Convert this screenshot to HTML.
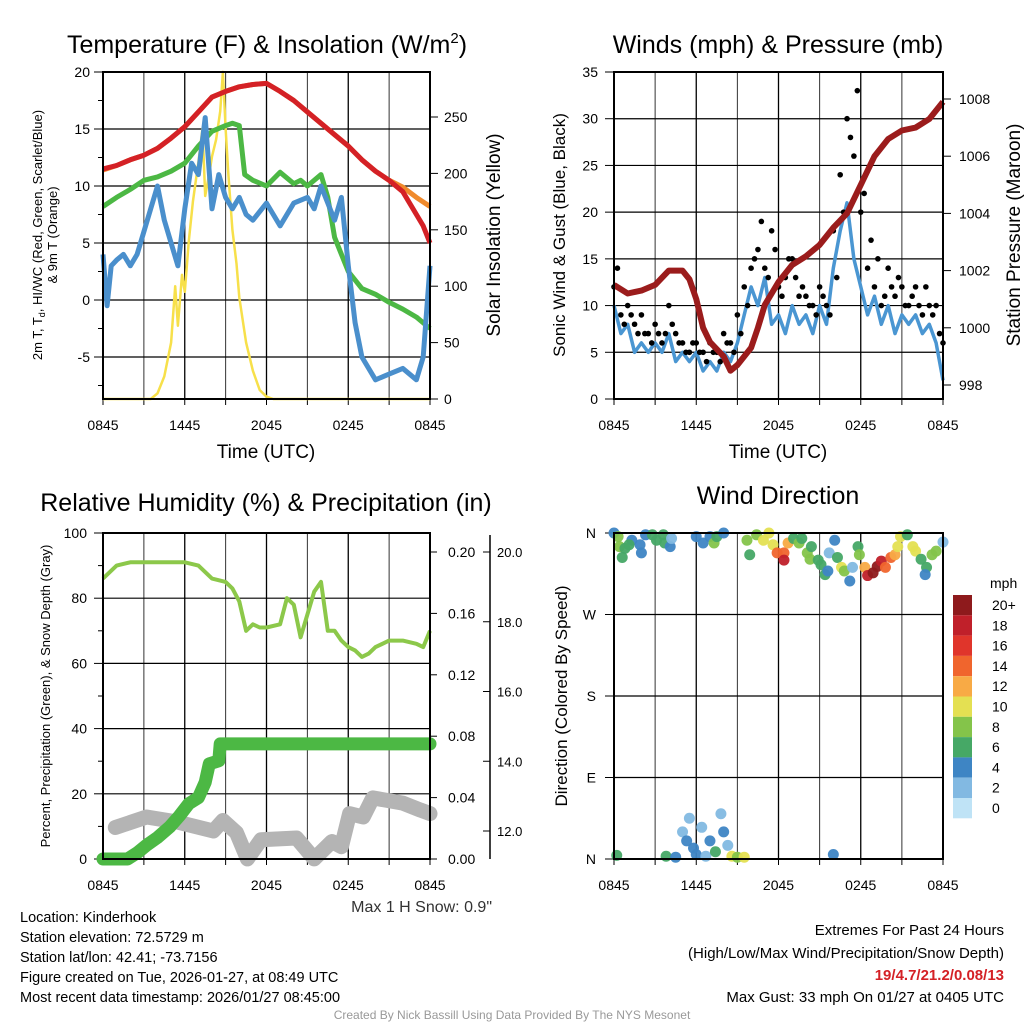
<!DOCTYPE html>
<html><head><meta charset="utf-8"><style>
body{margin:0;background:#fff;}
svg{display:block;font-family:"Liberation Sans",Arial,sans-serif;}
</style></head><body>
<svg id="c" width="1024" height="1024" viewBox="0 0 1024 1024"></svg>
<script>
// ---------- DATA ----------
const tRedH=[0,1,2,3,4,5,6,7,8,9,10,11,12,13,14,15,16,17,18,19,20,21,22,23,23.5,24];
const tRedV=[11.5,11.8,12.3,12.7,13.3,14.2,15.2,16.5,17.8,18.3,18.7,18.9,19.0,18.3,17.5,16.5,15.5,14.5,13.5,12.3,11.3,10.5,9.5,7.5,6.5,5];
const tOrgH=[0,1,2,3,4,5,6,7,8,9,10,11,12,13,14,15,16,17,18,19,20,21,22,23,24];
const tOrgV=[11.4,11.8,12.3,12.7,13.3,14.2,15.2,16.5,17.8,18.3,18.7,18.9,19.0,18.3,17.5,16.5,15.5,14.5,13.5,12.3,11.3,10.5,9.9,9.0,8.2];
const tGrnH=[0,1,2,3,4,5,6,7,8,9,9.5,10,10.4,11,12,13,14,14.5,15,16,16.5,17,18,19,20,21,22,23,24];
const tGrnV=[8.2,9,9.7,10.5,10.8,11.3,12,13.5,14.8,15.3,15.5,15.3,11,10.5,10,11.2,10.2,10.5,10,11,9,5.5,2.5,1,0.5,-0.2,-0.8,-1.5,-2.5];
const tBluH=[0,0.3,0.6,1,1.5,2,2.5,3,3.5,4,4.5,5,5.5,6,6.5,7,7.5,8,8.5,9,9.5,10,10.5,11,12,13,14,15,15.5,16,17,17.5,18,18.5,19,20,21,22,23,23.5,24];
const tBluV=[4,-0.5,3,3.5,4,3,4,6,8,10,7,5,3,8,12,11,16,8,11,9,8,9,7.5,7,8.5,6.5,8.5,9,8,10,7,9,3,-2,-5,-7,-6.5,-6,-7,-5,3];
const solH=[0,3.5,4,4.5,5,5.3,5.5,5.8,6,6.3,6.6,7,7.3,7.5,7.8,8,8.3,8.6,8.8,9,9.2,9.5,9.8,10,10.5,11,11.5,12,12.5,24];
const solV=[0,0,5,20,50,100,65,110,95,140,175,210,240,180,200,215,230,255,290,240,200,150,120,90,50,25,8,2,0,0];
const windH=[0,0.5,1,1.5,2,2.5,3,3.5,4,4.5,5,5.5,6,6.5,7,7.5,8,8.5,9,9.5,10,10.5,11,11.5,12,12.5,13,13.5,14,14.5,15,15.5,16,16.5,17,17.5,18,18.5,19,19.5,20,20.5,21,21.5,22,22.5,23,23.5,24];
const windV=[10,7,8,5,6,5,6,5,7,4,5,4,5,3,4,3,5,4,6,9,12,10,13,8,9,7,10,8,9,7,10,8,14,18,21,15,12,9,11,8,10,7,9,8,9,7,8,6,2];
const gustV=[12,9,10,8,9,7,8,6,10,7,6,5,6,5,6,5,7,6,9,12,14,16,14,18,12,13,15,11,11,10,12,10,18,24,30,26,20,14,12,10,14,11,12,10,12,9,10,10,6];
const gust2V=[14,8,9,7,7,6,7,7,8,6,5,6,5,4,5,4,6,5,7,10,15,19,13,16,11,15,13,12,10,9,11,9,13,20,28,33,22,17,15,11,12,13,10,11,10,12,9,7];
const presH=[0,1,2,3,4,5,5.5,6,6.5,7,8,8.5,9,10,10.5,11,12,13,14,15,16,17,18,19,20,21,22,23,24];
const presV=[1001.5,1001.2,1001.3,1001.5,1002,1002,1001.7,1001,1000,999.5,999,998.5,998.7,999.3,1000,1000.8,1001.6,1002.2,1002.5,1002.9,1003.5,1004,1005,1006,1006.6,1006.9,1007,1007.3,1007.9];
const rhH=[0,0.5,1,2,3,4,5,6,7,7.5,8,9,9.5,10,10.5,11,11.5,12,13,13.5,14,14.5,15,15.5,16,16.5,17,17.5,18,18.5,19,19.5,20,21,22,23,23.5,24];
const rhV=[86,88,90,91,91,91,91,91,90,88,86,85,83,79,70,72,71,71,72,80,78,68,75,82,85,70,70,67,65,64,62,63,65,67,67,66,65,70];
const prH=[0,1.8,2.5,3.2,4,4.9,5.6,6.3,7,7.5,7.8,8.5,8.6,24];
const prV=[0,0,0.004,0.009,0.014,0.021,0.028,0.036,0.04,0.05,0.062,0.064,0.075,0.075];
const snH=[0.9,3.2,5.4,8.1,8.8,9.8,10.6,11.6,14.2,15.5,16.8,17.5,18.1,19.1,19.8,22,23.3,24];
const snV=[12.1,12.4,12.26,12.0,12.3,11.95,11.2,11.75,11.8,11.2,11.7,11.55,12.5,12.4,12.95,12.8,12.6,12.5];
const dirH=[0,0.3,0.4,0.8,0.6,1.3,1.1,1.9,2.0,2.3,2.8,3.1,3.6,3.7,4.1,4.2,6.0,6.5,7.0,7.3,7.5,8.0,9.7,9.9,10.4,10.9,11.3,11.6,11.9,12.4,12.4,12.7,13.1,13.5,13.7,14.1,14.4,14.3,14.9,15.1,15.4,15.6,15.7,16.1,16.3,16.6,16.8,17.2,17.4,17.8,17.9,18.3,18.5,18.9,19.2,19.5,19.8,20.2,20.5,20.7,20.9,21.4,21.8,22.0,22.4,22.8,22.7,23.2,23.5,24,
 0.2,3.8,4.5,5,5.3,5.5,5.8,6.0,6.4,6.7,7.0,7.4,7.8,8.0,8.3,8.6,9.0,9.5,16];
const dirD=[360,356,345,343,333,352,347,347,338,358,358,352,358,349,345,354,356,349,356,349,356,360,352,336,358,352,360,347,338,338,330,349,354,349,354,338,345,331,330,325,314,318,338,352,333,322,318,307,322,345,336,322,313,316,323,329,322,333,336,345,356,358,345,340,331,322,314,336,340,350,
 4,3,2,30,20,45,12,5,35,3,20,8,50,30,15,3,2,2,5];
const dirS=[4,8,8,6,6,4,6,4,4,4,6,6,6,6,4,2,4,4,4,8,6,4,8,6,8,10,10,10,14,14,18,12,6,8,6,8,6,8,6,6,6,4,2,4,6,10,8,4,2,6,8,12,18,20,20,18,14,14,12,10,10,6,10,10,6,6,4,8,8,2,
 6,6,4,2,4,2,4,4,2,2,4,6,2,4,2,10,8,10,4];
const cbLabels=["20+","18","16","14","12","10","8","6","4","2","0"];
const cbColors=["#8e1a1c","#c0202a","#e0352b","#f0652d","#f8aa45","#e4e052","#84c44a","#46a866","#3e85c4","#82b9e2","#bfe3f6"];
// ---------- HELPERS ----------
const svg=document.getElementById('c');const NS='http://www.w3.org/2000/svg';
function mk(t,a,p){const e=document.createElementNS(NS,t);for(const k in a)e.setAttribute(k,a[k]);(p||svg).appendChild(e);return e;}
function txt(x,y,s,sz,anchor,extra){const e=mk('text',Object.assign({x:x,y:y,'font-size':sz,'text-anchor':anchor||'middle',fill:'#000'},extra||{}));e.textContent=s;return e;}
function linear(d0,d1,r0,r1){return v=>r0+(v-d0)*(r1-r0)/(d1-d0);}
function pathD(H,V,sx,sy){return H.map((h,i)=>(i?'L':'M')+sx(h).toFixed(1)+','+sy(V[i]).toFixed(1)).join('');}
function frame(x0,x1,y0,y1,sx,name){
  const g=mk('g',{});
  
  for(let h=0;h<=24;h+=3){mk('line',{x1:sx(h),x2:sx(h),y1:y0,y2:y1,stroke:h%6?'#333':'#000','stroke-width':h%6?1:1.3},g);
    mk('line',{x1:sx(h),x2:sx(h),y1:y1,y2:y1+6,stroke:'#000'},g);}
  const labs=['0845','1445','2045','0245','0845'];
  labs.forEach((l,i)=>{const t=txt(sx(i*6),y1+31,l,14);});
}
function hgrid(x0,x1,y){mk('line',{x1:x0,x2:x1,y1:y,y2:y,stroke:'#000','stroke-width':1.2});}
function box(x0,x1,y0,y1){mk('rect',{x:x0,y:y0,width:x1-x0,height:y1-y0,fill:'none',stroke:'#000','stroke-width':2});}
// ---------- PANEL 1 ----------
{const x0=103,x1=430,y0=72,y1=399;const sx=linear(0,24,x0,x1),sy=linear(-5,20,357,72),sr=linear(0,250,399,117);
 frame(x0,x1,y0,y1,sx,'temperature');
 [20,15,10,5,0,-5].forEach(v=>{hgrid(x0,x1,sy(v));mk('line',{x1:x0-9,x2:x0,y1:sy(v),y2:sy(v),stroke:'#000'});const t=txt(x0-13,sy(v)+5,String(v),14,'end');});
 [17.5,12.5,7.5,2.5,-2.5,-7.5].forEach(v=>mk('line',{x1:x0-5,x2:x0,y1:sy(v),y2:sy(v),stroke:'#000'}));
 [0,50,100,150,200,250].forEach(v=>{mk('line',{x1:x1,x2:x1+8,y1:sr(v),y2:sr(v),stroke:'#000'});const t=txt(x1+14,sr(v)+5,String(v),14,'start');});
 const lines=[[solH,solV,'#f7e04a',2.5,sr,'solar-line'],[tOrgH,tOrgV,'#f08a2c',5,sy,'temp-9m-line'],[tRedH,tRedV,'#d42126',5,sy,'temp-2m-line'],[tGrnH,tGrnV,'#4cb844',5,sy,'dewpoint-line'],[tBluH,tBluV,'#4a8fcc',5,sy,'windchill-line']];
 lines.forEach(L=>{const p=mk('path',{d:pathD(L[0],L[1],sx,L[4]),fill:'none',stroke:L[2],'stroke-width':L[3],'stroke-linejoin':'round'});});
 box(x0,x1,y0,y1);
 const t=txt(267,53,'Temperature (F) & Insolation (W/m',25);
 const ts=mk('tspan',{'font-size':15,dy:-10},t);ts.textContent='2';const ts2=mk('tspan',{dy:10},t);ts2.textContent=')';
 const xl=txt(266,458,'Time (UTC)',19);
 const yl=txt(0,0,'2m T, T',13,'middle',{transform:'translate(42,235) rotate(-90)'});
 const s1=mk('tspan',{'font-size':9,dy:3},yl);s1.textContent='d';const s2=mk('tspan',{dy:-3},yl);s2.textContent=', HI/WC (Red, Green, Scarlet/Blue)';
 const y2=txt(0,0,'& 9m T (Orange)',13,'middle',{transform:'translate(57,235) rotate(-90)'});
 const yr=txt(0,0,'Solar Insolation (Yellow)',19,'middle',{transform:'translate(500,235) rotate(-90)'});
}
// ---------- PANEL 2 ----------
{const x0=614,x1=943,y0=72,y1=399;const sx=linear(0,24,x0,x1),sy=linear(0,35,399,72),sp=linear(998,1008,385,99);
 frame(x0,x1,y0,y1,sx,'winds');
 [0,5,10,15,20,25,30,35].forEach(v=>{hgrid(x0,x1,sy(v));mk('line',{x1:x0-9,x2:x0,y1:sy(v),y2:sy(v),stroke:'#000'});const t=txt(x0-16,sy(v)+5,String(v),14,'end');});
 [998,1000,1002,1004,1006,1008].forEach(v=>{mk('line',{x1:x1,x2:x1+8,y1:sp(v),y2:sp(v),stroke:'#000'});const t=txt(x1+16,sp(v)+5,String(v),14,'start');});
 const p=mk('path',{d:pathD(windH,windV,sx,sy),fill:'none',stroke:'#4a96d2','stroke-width':3.5,'stroke-linejoin':'round'});
 windH.forEach((h,i)=>{const c=mk('circle',{cx:sx(h),cy:sy(gustV[i]),r:2.8,fill:'#000'});});
 gust2V.forEach((v,i)=>{const c=mk('circle',{cx:sx(i*0.5+0.25),cy:sy(v),r:2.8,fill:'#000'});});
 const pp=mk('path',{d:pathD(presH,presV,sx,sp),fill:'none',stroke:'#9b1c1c','stroke-width':6,'stroke-linejoin':'round'});
 box(x0,x1,y0,y1);
 const t=txt(778,53,'Winds (mph) & Pressure (mb)',25);
 const xl=txt(778,458,'Time (UTC)',19);
 const yl=txt(0,0,'Sonic Wind & Gust (Blue, Black)',17,'middle',{transform:'translate(565,235) rotate(-90)'});
 const yr=txt(0,0,'Station Pressure (Maroon)',19,'middle',{transform:'translate(1020,235) rotate(-90)'});
}
// ---------- PANEL 3 ----------
{const x0=103,x1=430,y0=533,y1=859;const sx=linear(0,24,x0,x1),sy=linear(0,100,859,533),spr=linear(0,0.2,859,552),ssn=linear(12,20,831,552);
 frame(x0,x1,y0,y1,sx,'humidity');
 [0,20,40,60,80,100].forEach(v=>{hgrid(x0,x1,sy(v));mk('line',{x1:x0-9,x2:x0,y1:sy(v),y2:sy(v),stroke:'#000'});const t=txt(x0-16,sy(v)+5,String(v),14,'end');});
 [10,30,50,70,90].forEach(v=>mk('line',{x1:x0-5,x2:x0,y1:sy(v),y2:sy(v),stroke:'#000'}));
 mk('line',{x1:430,x2:430,y1:533,y2:859,stroke:'#000','stroke-width':1.5});
 [0,0.04,0.08,0.12,0.16,0.2].forEach(v=>{mk('line',{x1:430,x2:437,y1:spr(v),y2:spr(v),stroke:'#000'});const t=txt(448,spr(v)+5,v.toFixed(2),14,'start');});
 mk('line',{x1:490,x2:490,y1:535,y2:859,stroke:'#000','stroke-width':1.5});
 [12,14,16,18,20].forEach(v=>{mk('line',{x1:490,x2:483,y1:ssn(v),y2:ssn(v),stroke:'#000'});const t=txt(497,ssn(v)+5,v.toFixed(1),13,'start');});
 const g=mk('path',{d:pathD(snH,snV,sx,ssn),fill:'none',stroke:'#b4b4b4','stroke-width':15,'stroke-linejoin':'round','stroke-linecap':'round'});
 const pr=mk('path',{d:pathD(prH,prV,sx,spr),fill:'none',stroke:'#4cb844','stroke-width':13,'stroke-linejoin':'round','stroke-linecap':'round'});
 const rh=mk('path',{d:pathD(rhH,rhV,sx,sy),fill:'none',stroke:'#8cc84a','stroke-width':4,'stroke-linejoin':'round'});
 box(x0,x1,y0,y1);
 const t=txt(266,511,'Relative Humidity (%) & Precipitation (in)',25);
 const yl=txt(0,0,'Percent, Precipitation (Green), & Snow Depth (Gray)',13,'middle',{transform:'translate(50,696) rotate(-90)'});
 const sn=txt(492,912,'Max 1 H Snow: 0.9"',16,'end',{fill:'#333'});
}
// ---------- PANEL 4 ----------
{const x0=614,x1=943,y0=533,y1=859;const sx=linear(0,24,x0,x1),sy=linear(0,360,859,533);
 frame(x0,x1,y0,y1,sx,'direction');
 [['N',0],['E',90],['S',180],['W',270],['N',360]].forEach(d=>{hgrid(x0,x1,sy(d[1]));mk('line',{x1:x0-9,x2:x0,y1:sy(d[1]),y2:sy(d[1]),stroke:'#000'});const t=txt(x0-18,sy(d[1])+5,d[0],14,'end');});
 const cidx=s=>Math.max(0,Math.min(10,10-Math.floor(s/2)));
 dirH.forEach((h,i)=>{const c=mk('circle',{cx:sx(h),cy:sy(dirD[i]),r:5.5,fill:cbColors[cidx(dirS[i])],'fill-opacity':0.95});});
 box(x0,x1,y0,y1);
 const t=txt(778,504,'Wind Direction',25);
 const yl=txt(0,0,'Direction (Colored By Speed)',17,'middle',{transform:'translate(567,696) rotate(-90)'});
 const m=txt(990,588,'mph',14,'start');
 cbLabels.forEach((l,i)=>{const y=595+i*20.3;const r=mk('rect',{x:953,y:y,width:19,height:20.3,fill:cbColors[i]});
  const tl=txt(992,y+15,l,14,'start');});
}
// ---------- TEXT ----------
['Location: Kinderhook','Station elevation: 72.5729 m','Station lat/lon: 42.41; -73.7156','Figure created on Tue, 2026-01-27, at 08:49 UTC','Most recent data timestamp: 2026/01/27 08:45:00'].forEach((s,i)=>{const t=txt(20,922+i*20,s,14.5,'start');});
{let t=txt(1004,935,'Extremes For Past 24 Hours',15,'end');
 t=txt(1004,958,'(High/Low/Max Wind/Precipitation/Snow Depth)',15,'end');
 t=txt(1004,980,'19/4.7/21.2/0.08/13',15,'end',{fill:'#d42126','font-weight':'bold'});
 t=txt(1004,1002,'Max Gust: 33 mph On 01/27 at 0405 UTC',15,'end');
 t=txt(512,1019,'Created By Nick Bassill Using Data Provided By The NYS Mesonet',12,'middle',{fill:'#999'});}
</script>
</body></html>
